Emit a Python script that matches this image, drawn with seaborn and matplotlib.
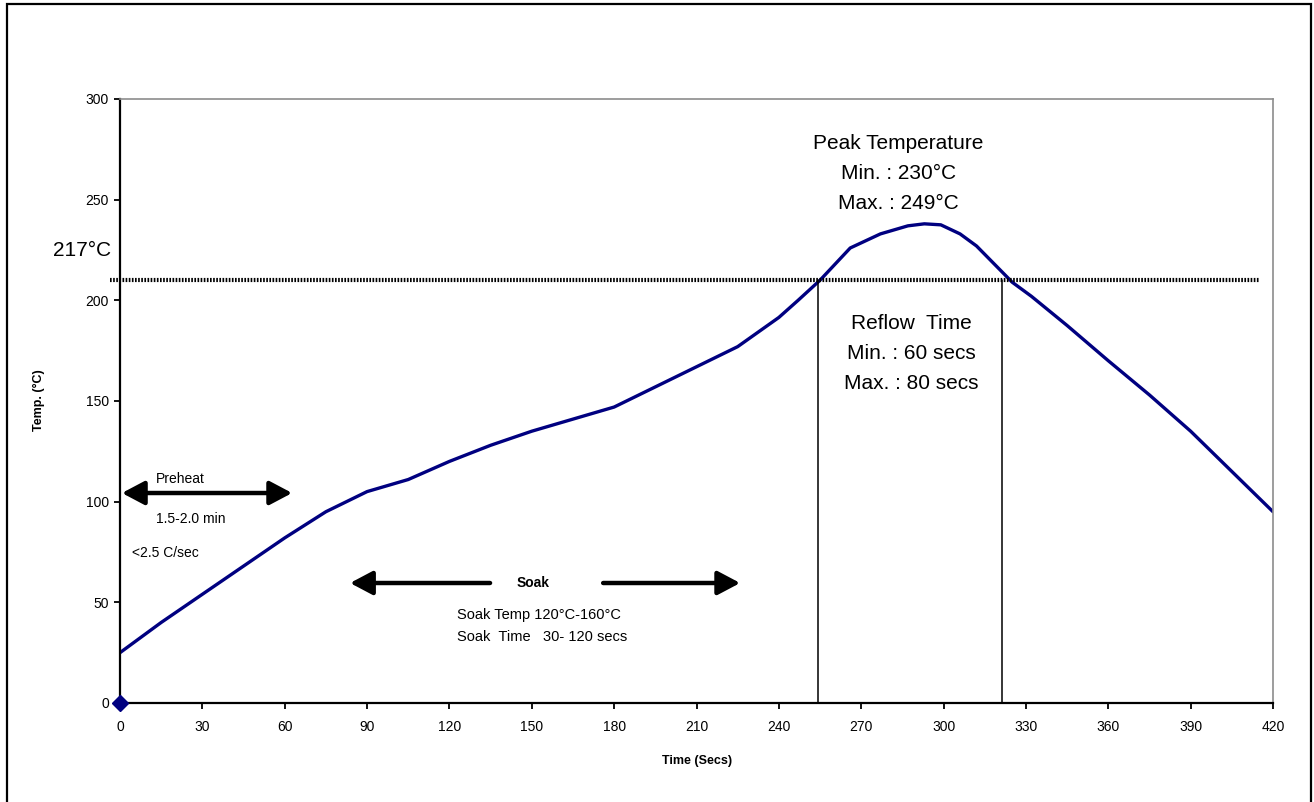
import matplotlib
matplotlib.use("Agg")
import matplotlib.pyplot as plt
from matplotlib.patches import Rectangle
import seaborn as sns
import pandas as pd

# ---- data ----
time_s = [0, 15, 30, 45, 60, 75, 90, 105, 120, 135, 150, 165, 180, 195, 210, 225,
          240, 247, 255, 266, 277, 287, 293, 299, 306, 312, 325, 332, 345, 360,
          375, 390, 405, 420]
temp_c = [25, 40, 54, 68, 82, 95, 105, 111, 120, 128, 135, 141, 147, 157, 167, 177,
          191.5, 200, 210, 226, 233, 237, 238, 237.5, 233, 227, 209, 202, 187.5, 170,
          153, 135, 115, 95]
marker_time = [0]
marker_temp = [0]
x_ticks = [0, 30, 60, 90, 120, 150, 180, 210, 240, 270, 300, 330, 360, 390, 420]
y_ticks = [0, 50, 100, 150, 200, 250, 300]
liquidus_line = 210          # drawn level of the 217°C line
reflow_start, reflow_end = 254.3, 321.3
preheat_span = (0.7, 62.7)
soak_left = (134.8, 83.8)
soak_right = (176.0, 225.9)

sns.set_theme(style="ticks")
plt.rcParams['font.family'] = ['Liberation Sans', 'DejaVu Sans']
plt.rcParams['text.color'] = 'black'
plt.rcParams['axes.labelcolor'] = 'black'
plt.rcParams['xtick.color'] = 'black'
plt.rcParams['ytick.color'] = 'black'

df = pd.DataFrame({"Time (Secs)": time_s, "Temp": temp_c})

fig = plt.figure(figsize=(13.14, 8.02), dpi=100)
ax = fig.add_axes([120/1314, (802-703)/802, (1273-120)/1314, (703-99)/802])

sns.lineplot(data=df, x="Time (Secs)", y="Temp", ax=ax, color="#000080",
             linewidth=2.4, estimator=None, sort=False)
ax.plot(marker_time, marker_temp, linestyle="none", marker="D", markersize=8,
        color="#000080", clip_on=False, zorder=5)

ax.set_xlim(0, 420)
ax.set_ylim(0, 300)
ax.set_xticks(x_ticks)
ax.set_yticks(y_ticks)
ax.tick_params(axis="both", labelsize=10, length=4, width=1.3, color="black",
               labelcolor="black", direction="out")
ax.tick_params(axis="x", pad=8)
ax.tick_params(axis="y", pad=4)

for side in ["left", "bottom"]:
    ax.spines[side].set_color("black")
    ax.spines[side].set_linewidth(1.6)
for side in ["top", "right"]:
    ax.spines[side].set_visible(True)
    ax.spines[side].set_color("#8c8c8c")
    ax.spines[side].set_linewidth(1.2)

ax.set_xlabel("Time (Secs)", fontsize=9, fontweight="bold", color="black")
ax.set_ylabel("Temp. (°C)", fontsize=9, fontweight="bold", color="black")
ax.xaxis.set_label_coords((697-120)/1153, -(761-703)/604)
ax.xaxis.label.set_va("center")
ax.yaxis.set_label_coords(-(120-39)/1153, (703-400)/604)
ax.yaxis.label.set_va("center")

# 217°C line
ax.plot([-3.6, 415], [liquidus_line, liquidus_line], color="black", linewidth=3.0,
        linestyle=(0, (0.4, 0.35)), clip_on=False, zorder=3)
ax.text(-13.8, 225, "217°C", fontsize=15, ha="center", va="center", clip_on=False)

# reflow verticals
ax.plot([reflow_start, reflow_start], [0, liquidus_line], color="black", linewidth=1.1)
ax.plot([reflow_end, reflow_end], [0, liquidus_line], color="black", linewidth=1.1)

# peak text
for t, yy in [("Peak Temperature", 278.1), ("Min. : 230°C", 263.2), ("Max. : 249°C", 248.3)]:
    ax.text(283.6, yy, t, fontsize=15, ha="center", va="center")
for t, yy in [("Reflow  Time", 188.7), ("Min. : 60 secs", 173.8), ("Max. : 80 secs", 158.9)]:
    ax.text(288.4, yy, t, fontsize=15, ha="center", va="center")

# arrows
astyle = "<|-|>,head_length=0.85,head_width=0.45"
ax.annotate("", xy=(preheat_span[1], 104.3), xytext=(preheat_span[0], 104.3),
            arrowprops=dict(arrowstyle=astyle, lw=3.2, color="black",
                            shrinkA=0, shrinkB=0, mutation_scale=16))
single = "-|>,head_length=0.85,head_width=0.45"
ax.annotate("", xy=(soak_left[1], 59.6), xytext=(soak_left[0], 59.6),
            arrowprops=dict(arrowstyle=single, lw=3.2, color="black",
                            shrinkA=0, shrinkB=0, mutation_scale=16))
ax.annotate("", xy=(soak_right[1], 59.6), xytext=(soak_right[0], 59.6),
            arrowprops=dict(arrowstyle=single, lw=3.2, color="black",
                            shrinkA=0, shrinkB=0, mutation_scale=16))

ax.text(21.9, 111.3, "Preheat", fontsize=10, ha="center", va="center")
ax.text(13.0, 91.4, "1.5-2.0 min", fontsize=10, ha="left", va="center")
ax.text(4.2, 74.5, "<2.5 C/sec", fontsize=10, ha="left", va="center")
ax.text(150.4, 59.6, "Soak", fontsize=10, fontweight="bold", ha="center", va="center")
ax.text(122.8, 43.7, "Soak Temp 120°C-160°C", fontsize=10.5, ha="left", va="center")
ax.text(122.8, 32.8, "Soak  Time   30- 120 secs", fontsize=10.5, ha="left", va="center")

# outer frame
fig.patches.append(Rectangle((7/1314, -0.02), (1311-7)/1314, 1.02 - 4.3/802,
                             transform=fig.transFigure, fill=False,
                             edgecolor="black", linewidth=1.6))

fig.savefig("out.png", dpi=100)
